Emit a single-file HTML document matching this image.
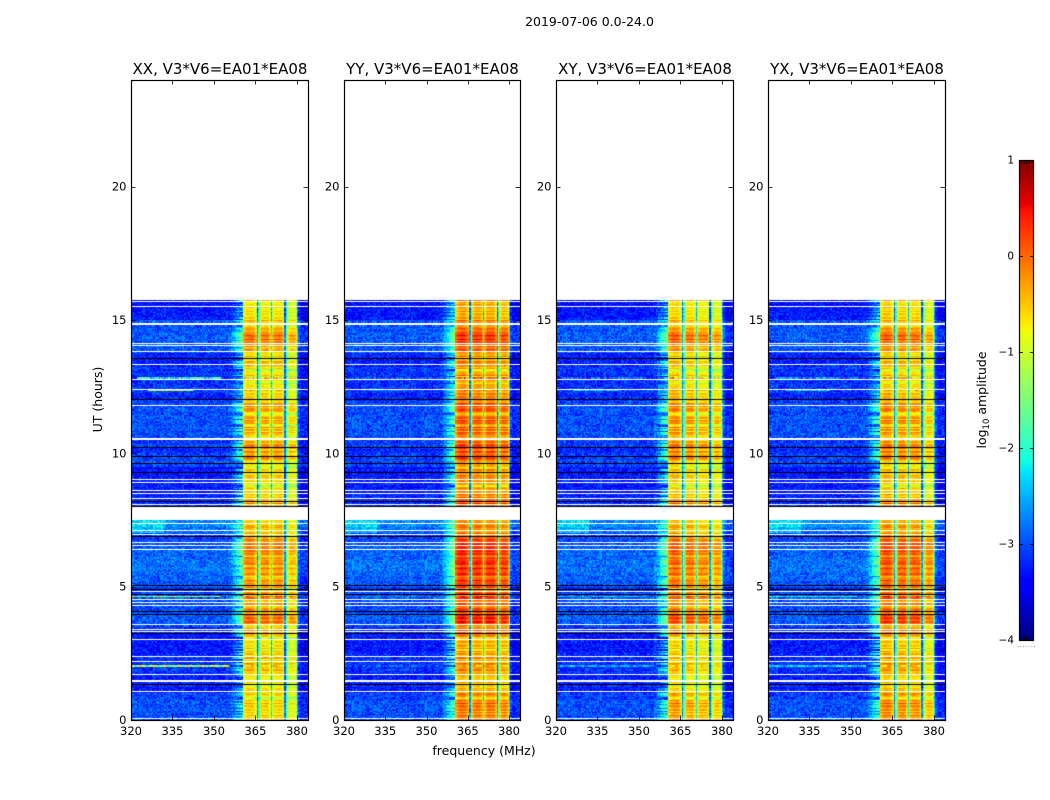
<!DOCTYPE html>
<html lang="en">
<head>
<meta charset="utf-8">
<title>2019-07-06 0.0-24.0</title>
<style>
  html, body { margin: 0; padding: 0; background: #fff; }
  #figure { position: relative; width: 1050px; height: 800px; overflow: hidden; background: #fff; font-family: "DejaVu Sans", "Liberation Sans", sans-serif; }
  canvas { position: absolute; display: block; }
  svg { position: absolute; left: 0; top: 0; }
  text { font-family: "DejaVu Sans", "Liberation Sans", sans-serif; fill: #000; }
</style>
</head>
<body>
<div id="figure">
  <svg id="overlay" width="1050" height="800" viewBox="0 0 1050 800">
    <text x="589.5" y="26" text-anchor="middle" font-size="12.5">2019-07-06 0.0-24.0</text>
    <text x="484" y="755" text-anchor="middle" font-size="12.5">frequency (MHz)</text>
    <text transform="translate(102 399.5) rotate(-90)" text-anchor="middle" font-size="12.5">UT (hours)</text>
    <text transform="translate(986 400) rotate(-90)" text-anchor="middle" font-size="12.5">log<tspan dy="3" font-size="8.5">10</tspan><tspan dy="-3"> amplitude</tspan></text>
  </svg>
</div>
<script>
// ---------- Chart data ----------
const panelTitles = ['XX, V3*V6=EA01*EA08', 'YY, V3*V6=EA01*EA08', 'XY, V3*V6=EA01*EA08', 'YX, V3*V6=EA01*EA08'];
const xTickValues = [320, 335, 350, 365, 380];
const yTickValues = [0, 5, 10, 15, 20];
const colorbarTicks = [1, 0, -1, -2, -3, -4];

// log10 amplitude outside the band, one value per 0.25 h from 0 h
const backgroundByTime = [
  -3.0,-3.0,-3.0,-3.05, -3.3,-3.2,-3.25,-3.15, -3.15,-3.2,-3.3,-3.3, -3.3,-3.2,-3.0,-2.95,
  -3.0,-3.0,-2.95,-3.15, -2.95,-2.9,-2.85,-2.85, -2.9,-2.9,-3.0,-3.05, -2.85,-2.7,null,null,
  -3.2,-3.25,-3.3,-3.25, -3.3,-3.3,-3.0,-3.1, -3.2,-3.1,-3.0,-3.0, -3.0,-3.0,-3.0,-3.05,
  -3.2,-3.1,-3.15,-3.2, -3.1,-3.25,-3.25,-3.0, -2.95,-2.95,-2.95,-2.95, -3.3,-3.3,-3.35,null
];

// log10 amplitude inside the band, one value per 0.25 h from 0 h, for each panel
const bandByTimeXX = [
  -.5,-.55,-.6,-.55, -.7,-.6,-.6,-.55, -.5,-.55,-.6,-.65, -.55,-.3,-.2,-.2,
  -.15,-.2,-.2,-.35, -.25,-.3,-.25,-.3, -.2,-.1,-.05,-.1, -.5,-.45,null,null,
  -.35,-.5,-.6,-.6, -.6,-.55,-.5,-.35, -.25,-.35,-.45,-.45, -.45,-.4,-.35,-.4,
  -.4,-.65,-.7,-.7, -.7,-.6,-.55,-.5, -.15,-.15,-.2,-.35, -.65,-.7,-.6,null
];
const bandByTimeYY = [
  -.15,-.15,-.2,-.2, -.6,-.45,-.45,-.4, -.35,-.4,-.45,-.45, -.3,-.05,.1,.1,
  .15,.1,.1,-.05, .15,.15,.2,.15, .2,.25,.3,.2, -.3,-.2,null,null,
  0,-.15,-.3,-.3, -.35,-.3,-.15,-.05, .05,-.05,-.1,-.15, -.1,-.1,-.05,-.1,
  -.05,-.35,-.4,-.4, -.5,-.4,-.3,-.2, .1,.1,.05,-.1, -.45,-.5,-.3,null
];
const bandByTimeXY = [
  -.25,-.25,-.3,-.3, -.7,-.6,-.6,-.55, -.5,-.55,-.6,-.6, -.45,-.2,-.1,-.05,
  -.05,-.1,-.1,-.25, -.1,-.1,-.05,-.1, -.05,.05,.1,0, -.45,-.35,null,null,
  -.2,-.4,-.55,-.55, -.55,-.5,-.4,-.25, -.15,-.25,-.3,-.35, -.3,-.3,-.25,-.3,
  -.25,-.55,-.6,-.6, -.7,-.6,-.5,-.4, -.1,-.05,-.1,-.3, -.6,-.65,-.5,null
];
const bandByTimeYX = [
  -.2,-.2,-.25,-.25, -.6,-.5,-.5,-.45, -.4,-.45,-.5,-.55, -.4,-.15,-.05,0,
  0,-.05,-.05,-.2, -.05,-.05,0,-.05, 0,.1,.15,.05, -.4,-.3,null,null,
  -.25,-.45,-.55,-.55, -.55,-.5,-.45,-.3, -.2,-.3,-.35,-.4, -.35,-.35,-.3,-.35,
  -.3,-.6,-.65,-.65, -.7,-.6,-.55,-.45, -.15,-.1,-.15,-.35, -.6,-.65,-.5,null
];

// band offset per sub-band (360.5-365.5, 365.5-370.5, 370.5-375.5, 375.5-380.5 MHz)
const subbandOffsetXX = [0, -0.05, -0.05, -0.3];
const subbandOffsetYY = [0.1, 0.05, 0.05, -0.05];
const subbandOffsetXY = [0, -0.1, -0.2, -0.3];
const subbandOffsetYX = [0.05, 0, -0.05, -0.3];
const subbandEdges = [360.5, 365.5, 370.5, 375.5, 380.5];

// how far each 0.5 MHz channel sits between background (0) and band (1)
const channelWeights = [
  0,0,0,0,0,0,0,0,0,0, 0,0,0,0,0,0,0,0,0,0, 0,0,0,0,0,0,0,0,0,0, 0,0,0,0,0,0,0,0,0,0,
  0,0,0,0,0,0,0,0,0,0, 0,0,0,0,0,0,0,0,0,0, 0,0,0,0,0,0,0,0,0,0,
  .02,.04,.07,.1,.14,.18,.22,.26,.3,.34,.38,
  1,1,1,1,1,1,1,1,1,1, .12,.5,
  1,1,1,1,1,1,1,1, .3,
  1,1,1,1,1,1,1,1,1, .12,.5,
  1,1,1,1,1,1,1, .25,
  0,0,0,0,0,0,0
];
// droop of the band towards each sub-band edge, per channel
const channelDroop = [
  0,0,0,0,0,0,0,0,0,0, 0,0,0,0,0,0,0,0,0,0, 0,0,0,0,0,0,0,0,0,0, 0,0,0,0,0,0,0,0,0,0,
  0,0,0,0,0,0,0,0,0,0, 0,0,0,0,0,0,0,0,0,0, 0,0,0,0,0,0,0,0,0,0,
  0,0,0,0,0,0,0,0,0,0,0,
  -.3,-.15,-.05,0,0,0,0,-.05,-.2,-.4, 0,0,
  -.35,-.1,0,0,0,0,-.1,-.35, 0,
  -.35,-.1,0,0,0,0,0,-.1,-.35, 0,0,
  -.3,-.1,0,0,0,-.1,-.35, 0,
  0,0,0,0,0,0,0
];
const aboveBandOffset = [-0.2];

// hour positions of blank and flagged rows
const whiteRowHours = [15.70,15.52,14.90,14.85,14.15,14.06,13.84,13.34,12.78,12.41,11.80,10.59,10.54,9.05,8.94,8.64,8.51,8.32,8.11,
  7.40,7.11,6.96,6.66,6.56,6.41,4.85,4.53,4.42,4.30,3.61,3.43,3.33,3.02,2.41,2.21,1.73,1.50,1.45,1.10,0.07];
const blackRowHours = [13.58,12.04,10.25,9.91,9.64,9.31,8.21,8.01,6.89,5.08,4.92,4.73,4.10,3.98,3.26,1.36];

// interference rows
const hotRowHours = [12.37, 12.84, 4.61, 2.01];
const hotRowLevels = [-1.2, -2.1, -1.4, -1.3];
const hotRowStartMHz = [326, 322, 320, 320];
const hotRowEndMHz = [342, 352, 352, 355];
const hotRowPanelWeights = [1, 0.12, 0.3, 0.4];

// brighter patch near the top of the 0-7.5 h block
const patchHourRange = [7.0, 7.49];
const patchMHzRange = [320, 332];
const patchBoost = [0.4];

// Estimated fine texture: row stripes and cell speckle (individual cells are not readable)
const rowStripe = [.12,-.18,.22,.05,-.25,.16,-.06,.28,-.2,.02,.18,-.28,.1,.24,-.12,-.03,.2,-.22,.07,.26,
  -.16,-.08,.14,-.26,.19,.03,-.14,.25,-.1,.09,-.24,.17,-.01,.21,-.19,.11,-.29,.13,.04,-.15,.23];
const cellSpeckle = [.12,-.22,.35,-.05,.18,-.33,.08,.27,-.14,-.28,.4,-.09,.02,.22,-.35,.15,-.18,.3,-.02,-.25,
  .1,.33,-.12,-.3,.2,.05,-.2,.38,-.07,-.16,.25,-.32,.13,.01,-.24,.29,-.11,.17,-.37,.07,.24,-.04,-.27,.32,
  -.15,.09,.19,-.34,.28,-.08,-.19,.16,.04];

// ---------- Layout and scales ----------
const bandByTime = [bandByTimeXX, bandByTimeYY, bandByTimeXY, bandByTimeYX];
const subbandOffset = [subbandOffsetXX, subbandOffsetYY, subbandOffsetXY, subbandOffsetYX];
const axesLeft = [131, 344, 556, 768];
const axesWidths = [177, 176, 177, 177];
const axesTop = 80, axesHeight = 640;
const freqMin = 320, freqMax = 384, hourMin = 0, hourMax = 24;
const rowHours = 0.05, channelMHz = 0.5, binHours = 0.25;
const dataTopHour = 15.77, lowerBlockTopHour = 7.49, upperBlockBottomHour = 8.0;
const colorMin = -4, colorMax = 1;
const cbLeft = 1019, cbWidth = 15, cbTop = 160, cbHeight = 480;
const NS = 'http://www.w3.org/2000/svg';
const overlay = document.getElementById('overlay');
const figure = document.getElementById('figure');

function xScale(panel, f) { return axesLeft[panel] + (f - freqMin) * axesWidths[panel] / (freqMax - freqMin); }
function yScale(h) { return axesTop + axesHeight - (h - hourMin) * axesHeight / (hourMax - hourMin); }
function cbScale(v) { return cbTop + (colorMax - v) * cbHeight / (colorMax - colorMin); }

function ramp(t, pts) {
  for (let i = 1; i < pts.length; i++) {
    if (t <= pts[i][0]) {
      const a = pts[i - 1], b = pts[i];
      return a[1] + (b[1] - a[1]) * (t - a[0]) / (b[0] - a[0]);
    }
  }
  return pts[pts.length - 1][1];
}
const jetR = [[0,0],[.35,0],[.66,1],[.89,1],[1,.5]];
const jetG = [[0,0],[.125,0],[.375,1],[.64,1],[.91,0],[1,0]];
const jetB = [[0,.5],[.11,1],[.34,1],[.65,0],[1,0]];
function jet(v) {
  const t = Math.max(0, Math.min(1, (v - colorMin) / (colorMax - colorMin)));
  return 'rgb(' + Math.round(255 * ramp(t, jetR)) + ',' + Math.round(255 * ramp(t, jetG)) + ',' + Math.round(255 * ramp(t, jetB)) + ')';
}

function subbandIndex(f) {
  for (let i = 0; i < subbandEdges.length - 1; i++) {
    if (f >= subbandEdges[i] && f < subbandEdges[i + 1]) return i;
  }
  return -1;
}

function cellValue(panel, r, c) {
  const h = r * rowHours, f = freqMin + c * channelMHz;
  const bin = Math.floor((h + 1e-6) / binHours);
  const bgLevel = backgroundByTime[bin], bandLevel = bandByTime[panel][bin];
  if (bgLevel === null || bgLevel === undefined || bandLevel === null || bandLevel === undefined) return null;
  const stripe = 0.7 * rowStripe[(r * 7) % rowStripe.length] + 0.6 * cellSpeckle[(r * 9) % cellSpeckle.length];
  const speck = cellSpeckle[(c * c * 3 + r * r * 5 + c * r + panel * 11) % cellSpeckle.length];
  let bg = bgLevel + speck * 0.9 + stripe * 0.12;
  if (f > subbandEdges[4]) bg += aboveBandOffset[0];
  if (h >= patchHourRange[0] && h < patchHourRange[1] && f >= patchMHzRange[0] && f < patchMHzRange[1]) bg += patchBoost[0];
  let w = channelWeights[c] || 0;
  const sb = subbandIndex(f);
  const band = bandLevel + stripe * 1.1 + speck * 0.3 + (sb >= 0 ? subbandOffset[panel][sb] : 0) + (channelDroop[c] || 0);
  if (f < subbandEdges[0]) {
    // the out-of-band shoulder follows the row's band power
    w *= Math.max(0.05, Math.min(1.3, 1 + (bandLevel + 0.3) * 1.5 + stripe * 3));
  }
  let v = bg + w * (band - bg);
  for (let i = 0; i < hotRowHours.length; i++) {
    if (Math.floor(hotRowHours[i] / rowHours) === r) {
      if (f >= hotRowStartMHz[i] && f <= hotRowEndMHz[i]) {
        v += (hotRowLevels[i] + speck * 2 - v) * hotRowPanelWeights[panel];
      } else if (w >= 1) {
        v += 0.2 + speck;
      }
    }
  }
  return v;
}

// ---------- Heatmaps ----------
const rowCount = Math.round((hourMax - hourMin) / rowHours);
const channelCount = Math.round((freqMax - freqMin) / channelMHz);

panelTitles.forEach(function (title, p) {
  const width = axesWidths[p];
  const cv = document.createElement('canvas');
  
  
  cv.width = width;
  cv.height = axesHeight;
  cv.style.left = axesLeft[p] + 'px';
  cv.style.top = axesTop + 'px';
  figure.insertBefore(cv, overlay);
  const ctx = cv.getContext('2d');
  ctx.fillStyle = '#fff';
  ctx.fillRect(0, 0, width, axesHeight);
  for (let r = 0; r < rowCount; r++) {
    const h = r * rowHours;
    if (h >= dataTopHour) continue;
    if (h >= lowerBlockTopHour && h < upperBlockBottomHour) continue;
    const y1 = Math.round(yScale(h + rowHours)) - axesTop;
    const y0 = Math.round(yScale(h)) - axesTop;
    for (let c = 0; c < channelCount; c++) {
      const v = cellValue(p, r, c);
      if (v === null) continue;
      const x0 = Math.round(xScale(p, freqMin + c * channelMHz)) - axesLeft[p];
      const x1 = Math.round(xScale(p, freqMin + (c + 1) * channelMHz)) - axesLeft[p];
      ctx.fillStyle = jet(v);
      ctx.fillRect(x0, y1, x1 - x0, y0 - y1);
    }
  }
  // flagged rows are one pixel tall, drawn over the cells
  whiteRowHours.forEach(function (h) {
    ctx.fillStyle = '#fff';
    ctx.fillRect(0, Math.round(yScale(h)) - axesTop, width, 1);
  });
  blackRowHours.forEach(function (h) {
    ctx.fillStyle = '#000';
    ctx.fillRect(0, Math.round(yScale(h)) - axesTop, width, 1);
  });
});

// ---------- Axes ----------
function addLine(x1, y1, x2, y2, width) {
  const l = document.createElementNS(NS, 'line');
  l.setAttribute('x1', x1);
  l.setAttribute('y1', y1);
  l.setAttribute('x2', x2);
  l.setAttribute('y2', y2);
  l.setAttribute('stroke', '#000');
  l.setAttribute('stroke-width', width);
  overlay.appendChild(l);
  return l;
}
function addText(x, y, anchor, size, content) {
  const t = document.createElementNS(NS, 'text');
  t.setAttribute('x', x);
  t.setAttribute('y', y);
  t.setAttribute('text-anchor', anchor);
  t.setAttribute('font-size', size);
  t.textContent = content;
  overlay.appendChild(t);
  return t;
}

panelTitles.forEach(function (title, p) {
  const left = axesLeft[p], width = axesWidths[p];
  const frame = document.createElementNS(NS, 'rect');
  
  
  frame.setAttribute('x', left + 0.5);
  frame.setAttribute('y', axesTop + 0.5);
  frame.setAttribute('width', width);
  frame.setAttribute('height', axesHeight);
  frame.setAttribute('fill', 'none');
  frame.setAttribute('stroke', '#000');
  frame.setAttribute('stroke-width', '1.2');
  overlay.appendChild(frame);

  const titleEl = addText(left + width / 2 + 0.5, 74, 'middle', 15, title);
  
  

  xTickValues.forEach(function (f) {
    const x = Math.round(xScale(p, f)) + 0.5;
    const bottomTick = addLine(x, axesTop + axesHeight, x, axesTop + axesHeight - 4.5, 0.8);
    
    
    const topTick = addLine(x, axesTop, x, axesTop + 4.5, 0.8);
    
    
    const label = addText(xScale(p, f), 735, 'middle', 11.5, String(f));
    
    
  });

  yTickValues.forEach(function (h) {
    const y = Math.round(yScale(h)) + 0.5;
    const leftTick = addLine(left, y, left + 4.5, y, 0.8);
    
    
    const rightTick = addLine(left + width, y, left + width - 4.5, y, 0.8);
    
    
    const label = addText(left - 4.5, yScale(h) + 4, 'end', 11.5, String(h));
    
    
  });
});

// ---------- Colorbar ----------
const cb = document.createElement('canvas');


cb.width = cbWidth;
cb.height = cbHeight;
cb.style.left = cbLeft + 'px';
cb.style.top = cbTop + 'px';
figure.insertBefore(cb, overlay);
const cbCtx = cb.getContext('2d');
for (let i = 0; i < cbHeight; i++) {
  cbCtx.fillStyle = jet(colorMax - (i + 0.5) * (colorMax - colorMin) / cbHeight);
  cbCtx.fillRect(0, i, cbWidth, 1);
}
const cbFrame = document.createElementNS(NS, 'rect');


cbFrame.setAttribute('x', cbLeft + 0.5);
cbFrame.setAttribute('y', cbTop + 0.5);
cbFrame.setAttribute('width', cbWidth - 1);
cbFrame.setAttribute('height', cbHeight);
cbFrame.setAttribute('fill', 'none');
cbFrame.setAttribute('stroke', '#000');
cbFrame.setAttribute('stroke-width', '1.2');
overlay.appendChild(cbFrame);

colorbarTicks.forEach(function (v) {
  const y = Math.round(cbScale(v)) + 0.5;
  const l = addLine(cbLeft, y, cbLeft + 4, y, 0.8);
  
  
  const r = addLine(cbLeft + cbWidth - 4, y, cbLeft + cbWidth, y, 0.8);
  
  
  const label = addText(cbLeft - 5, cbScale(v) + 3.5, 'end', 10.5, String(v).replace('-', '\u2212'));
  
  
});

// small inward ticks along the short edges of the colorbar, with their tiny dots below
for (let i = 1; i <= 5; i++) {
  const x = cbLeft + i * (cbWidth / 6) + 0.3;
  const top = addLine(x, cbTop, x, cbTop + 4, 0.8);
  
  
  const bottom = addLine(x, cbTop + cbHeight, x, cbTop + cbHeight - 4, 0.8);
  
  
}
for (let i = 0; i <= 6; i++) {
  const dot = document.createElementNS(NS, 'rect');
  
  
  dot.setAttribute('x', cbLeft - 1.5 + i * 2.75);
  dot.setAttribute('y', 646);
  dot.setAttribute('width', 1);
  dot.setAttribute('height', 1);
  dot.setAttribute('fill', '#999');
  overlay.appendChild(dot);
}
</script>
</body>
</html>
